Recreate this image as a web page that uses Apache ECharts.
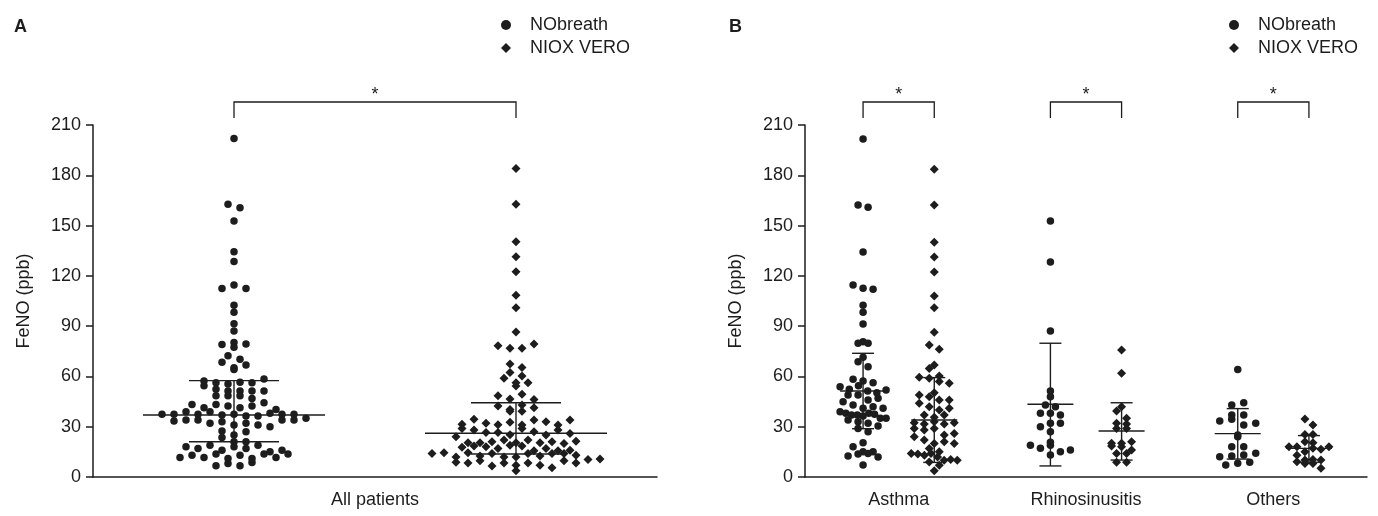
<!DOCTYPE html>
<html>
<head>
<meta charset="utf-8">
<script src="https://cdn.jsdelivr.net/npm/echarts@6/dist/echarts.min.js"></script>
<style>
  html, body { margin: 0; background: #fff; }
  #main { width: 1378px; height: 516px; }
</style>
</head>
<body>
<div id="main"></div>
<script>
// ---- data ----
const yTicks = [0, 30, 60, 90, 120, 150, 180, 210];
const catsA = ['All patients'];
const catsB = ['Asthma', 'Rhinosinusitis', 'Others'];
const devices = ['NObreath', 'NIOX VERO'];

// panel A, all patients (ppb)
const allNObreath = [202, 162.7, 160.7, 152.7, 134.4, 128.5, 112.4, 114.6, 112.4, 102.4, 98.3, 91.5, 87.1,
  79.1, 80.3, 77.4, 79.3, 72.4, 68.4, 70.2, 65.2, 66.8, 64.2,
  57.3, 56.3, 55.5, 56.5, 54.5, 56.3, 58.5,
  52.3, 51.3, 51.3, 51.3, 51.3, 48.5, 48.5, 48.5, 46.9,
  43.3, 41.3, 43.3, 42.3, 41.3, 42.3, 44.3, 40.3,
  37.4, 37.4, 38.9, 37.4, 38.9, 37, 37.4, 36.4, 36.4, 38, 37.4, 37.4,
  33.4, 34, 34, 32, 33, 31, 32, 31, 30, 35, 34, 34,
  27.4, 25, 27, 23.6, 21, 21,
  18, 17, 19, 16, 18, 17, 19, 15, 16,
  11.7, 13, 11.7, 13.7, 11, 13, 11, 13.7, 11.7, 13.7,
  6.7, 8.1, 6.7, 8.7];
const allNiox = [184, 162.7, 140.4, 131.4, 122.5, 108.4, 101, 86.5,
  78.3, 76.8, 76.8, 79.4, 67.4, 65.4,
  58.9, 62.4, 60.2, 56.3, 56.3, 54.3,
  48.5, 46.5, 49.3, 46.3,
  42.3, 39.3, 40.3, 39.3, 42.9, 41.3,
  31.5, 34.5, 32, 31.2, 32.6, 31, 34, 29, 33, 31, 34,
  28, 26.6, 24, 26.6, 25.2, 29, 27, 25, 28, 26,
  20.5, 20.5, 17.7, 21, 22, 20.5, 18.5, 22, 18, 17, 20.5, 19, 18.5, 21, 20, 21.4,
  14, 15.6, 14.4, 12, 17, 14.4, 12.5, 14, 12, 12, 15.6, 14, 12.5, 16, 14, 14, 13,
  8.8, 8.4, 9.7, 10.5, 6.6, 8.4, 7, 8.4, 3.7, 7, 5.5, 9.7, 10.7, 8.4];
// median, Q1, Q3
const allMid = [37, 26.1];
const allLow = [21, 13.7];
const allHigh = [57.5, 44.3];

// panel B, by diagnosis
const asthmaNObreath = [201.7, 162.3, 161, 134.2, 114.6, 112.6, 112, 102.4, 98.3, 91.3, 79.8, 79.8, 80.7, 71.4, 68.8, 65.8,
  58.3, 57.3, 56.3, 53.9, 52.3, 54.5, 51.3, 50.3, 48.9, 51.9, 48.9,
  45.9, 44.9, 47, 43, 41, 41.9, 41, 39, 38, 37, 37, 36.4, 38, 37.4, 34, 35, 35,
  33, 32, 30.4, 29, 27, 20.5, 18.1, 15.1, 15.1, 12.5, 13.7, 14, 12, 7.2];
const asthmaNiox = [183.6, 162.3, 140, 131.3, 122.3, 108, 101, 86.3, 78.8, 76.2, 66.8, 64.8,
  59.5, 60.3, 58.9, 57, 56, 48.9, 50.3, 47.9, 45.9, 44, 45.9,
  41.9, 40, 41, 37, 35.6, 37, 32.4, 31.6, 33, 31.6, 32.4,
  29, 28, 29, 25, 24, 26, 22, 20, 21, 20, 17,
  14, 13.7, 15, 13, 14, 12, 10, 9, 10.5, 10, 7, 3.7];
const rhinoNObreath = [152.7, 128.3, 87.1, 51.3, 47.9, 43, 41.9, 38, 38, 37, 30, 32, 32, 27,
  20.7, 19, 17.1, 19, 15, 16.1, 13.1];
const rhinoNiox = [75.8, 61.9, 39.4, 41.9, 32, 31.6, 35, 29, 29, 18.5, 20.1, 18.1, 20.1, 21,
  14, 14, 16.1, 8.8, 8.8];
const othersNObreath = [64.2, 43, 44.3, 33.4, 37, 37, 34.4, 31, 32, 25, 24, 18.1, 18.1,
  12.1, 12.5, 13.1, 14.1, 7.2, 8.2, 8.8];
const othersNiox = [34.6, 31, 25.4, 25.4, 21, 20.5, 18.1, 18.1, 15.1, 17.1, 16.5, 18.1, 13,
  10.1, 10.5, 9.1, 8.1, 8.1, 10.1, 5.2];
// centre line and error bar ends per diagnosis
const nobreathMidB = [51.3, 43.4, 25.9];
const nobreathLowB = [28.8, 6.6, 10.7];
const nobreathHighB = [73.8, 79.8, 40.8];
const nioxMidB = [34, 27.4, 17.1];
const nioxLowB = [8.7, 10.1, 8.8];
const nioxHighB = [59.3, 44.3, 24.7];

// ---- layout ----
const INK = '#1d1d1d';
const FONT = '"Liberation Sans", Arial, Helvetica, sans-serif';
const gridA = { left: 93, top: 125, width: 564, height: 352 };
const gridB = { left: 805, top: 125, width: 562, height: 352 };
const pxA = gridA.width / catsA.length;   // px per x unit
const pxB = gridB.width / catsB.length;
const offA = 0.25, offB = 0.19;           // group offset from category centre

// prism-like dot plot: values grouped in rows of `bin` ppb, spread symmetrically
function swarm(values, cx, pxPerUnit, step, maxHalf, bin) {
  const rows = {};
  values.forEach(v => {
    const k = Math.floor(v / bin);
    (rows[k] = rows[k] || []).push(v);
  });
  const out = [];
  Object.keys(rows).forEach(k => {
    const row = rows[k];
    const n = row.length;
    const s = n > 1 ? Math.min(step, 2 * maxHalf / (n - 1)) : 0;
    row.forEach((v, i) => out.push([cx + (i - (n - 1) / 2) * s / pxPerUnit, v]));
  });
  return out;
}

function dots(name, data, xi, symbol, size) {
  return {
    name, type: 'scatter', xAxisIndex: xi, yAxisIndex: xi === 0 ? 0 : 1,
    symbol, symbolSize: size, data, z: 3,
    itemStyle: { color: INK, opacity: 1 }
  };
}

function bars(xs, mid, low, high, xi, halfMid, halfCap) {
  return {
    type: 'custom', xAxisIndex: xi, yAxisIndex: xi === 0 ? 0 : 1, silent: true, z: 5,
    encode: { x: 0, y: [1, 2, 3] },
    data: xs.map((x, i) => [x, mid[i], low[i], high[i]]),
    renderItem(params, api) {
      const x = api.value(0);
      const c = api.coord([x, api.value(1)]);
      const lo = api.coord([x, api.value(2)]);
      const hi = api.coord([x, api.value(3)]);
      const style = { stroke: INK, lineWidth: 1.4 };
      const ln = (x1, y1, x2, y2) => ({ type: 'line', shape: { x1, y1, x2, y2 }, style });
      return { type: 'group', children: [
        ln(c[0] - halfMid, c[1], c[0] + halfMid, c[1]),
        ln(c[0], lo[1], c[0], hi[1]),
        ln(c[0] - halfCap, lo[1], c[0] + halfCap, lo[1]),
        ln(c[0] - halfCap, hi[1], c[0] + halfCap, hi[1])
      ]};
    }
  };
}

// significance brackets above the top tick
function brackets(pairs, xi) {
  return {
    type: 'custom', xAxisIndex: xi, yAxisIndex: xi === 0 ? 0 : 1, silent: true, clip: false,
    encode: { x: [0, 1] },
    data: pairs,
    renderItem(params, api) {
      const a = api.coord([api.value(0), 210]);
      const b = api.coord([api.value(1), 210]);
      const top = a[1] - 23, bot = a[1] - 7;
      const style = { stroke: INK, lineWidth: 1.3, fill: 'none' };
      return { type: 'group', children: [
        { type: 'polyline', shape: { points: [[a[0], bot], [a[0], top], [b[0], top], [b[0], bot]] }, style },
        { type: 'text', style: { text: '*', x: (a[0] + b[0]) / 2, y: top + 2, fill: INK,
          font: '18px ' + FONT, align: 'center', verticalAlign: 'bottom' } }
      ]};
    }
  };
}

const xsA = [0.5 - offA, 0.5 + offA];
const nobXB = catsB.map((c, i) => i + 0.5 - offB);
const nioXB = catsB.map((c, i) => i + 0.5 + offB);

const yAxisBase = gi => ({
  type: 'value', gridIndex: gi, min: yTicks[0], max: yTicks[yTicks.length - 1], interval: 30,
  name: 'FeNO (ppb)', nameLocation: 'middle', nameGap: 60, nameRotate: 90,
  nameTextStyle: { fontSize: 18, color: INK, fontFamily: FONT },
  axisLine: { show: true, lineStyle: { color: INK, width: 1.5 } },
  axisTick: { show: true, length: 7, lineStyle: { color: INK, width: 1.5 } },
  axisLabel: { fontSize: 18, color: INK, fontFamily: FONT, margin: 12 },
  splitLine: { show: false }
});
const catAxis = (gi, data) => ({
  type: 'category', gridIndex: gi, data, position: 'bottom', boundaryGap: true,
  axisLine: { lineStyle: { color: INK, width: 1.5 } },
  axisTick: { length: 8, lineStyle: { color: INK, width: 1.5 } },
  axisLabel: { fontSize: 18, color: INK, fontFamily: FONT, margin: 14 },
  splitLine: { show: false }
});
const valAxis = (gi, max) => ({ type: 'value', gridIndex: gi, min: 0, max, show: false, position: 'bottom' });

const legendBase = left => ({
  left, top: 11, orient: 'vertical', itemGap: 5, itemWidth: 10, itemHeight: 10,
  textStyle: { fontSize: 18, color: INK, fontFamily: FONT, padding: [0, 0, 0, 14] },
  selectedMode: false,
  data: [{ name: devices[0], icon: 'circle' }, { name: devices[1], icon: 'diamond' }]
});

const chart = echarts.init(document.getElementById('main'));
chart.setOption({
  animation: false,
  backgroundColor: '#fff',
  textStyle: { fontFamily: FONT },
  title: [
    { text: 'A', left: 9, top: 13, textStyle: { fontSize: 18, fontWeight: 'bold', color: INK, fontFamily: FONT } },
    { text: 'B', left: 724, top: 13, textStyle: { fontSize: 18, fontWeight: 'bold', color: INK, fontFamily: FONT } }
  ],
  legend: [legendBase(496), legendBase(1224)],
  grid: [gridA, gridB],
  xAxis: [valAxis(0, catsA.length), catAxis(0, catsA), valAxis(1, catsB.length), catAxis(1, catsB)],
  yAxis: [yAxisBase(0), yAxisBase(1)],
  series: [
    dots(devices[0], swarm(allNObreath, xsA[0], pxA, 12, 95, 5), 0, 'circle', 7.5),
    dots(devices[1], swarm(allNiox, xsA[1], pxA, 12, 95, 5), 0, 'diamond', 9),
    bars(xsA, allMid, allLow, allHigh, 0, 91, 45),
    brackets([[xsA[0], xsA[1]]], 0),
    dots(devices[0], [].concat(
      swarm(asthmaNObreath, nobXB[0], pxB, 10, 23, 5),
      swarm(rhinoNObreath, nobXB[1], pxB, 10, 23, 5),
      swarm(othersNObreath, nobXB[2], pxB, 12, 23, 5)), 2, 'circle', 7.5),
    dots(devices[1], [].concat(
      swarm(asthmaNiox, nioXB[0], pxB, 10, 23, 5),
      swarm(rhinoNiox, nioXB[1], pxB, 10, 23, 5),
      swarm(othersNiox, nioXB[2], pxB, 8, 23, 5)), 2, 'diamond', 9),
    bars(nobXB, nobreathMidB, nobreathLowB, nobreathHighB, 2, 23, 11),
    bars(nioXB, nioxMidB, nioxLowB, nioxHighB, 2, 23, 11),
    brackets(nobXB.map((x, i) => [x, nioXB[i]]), 2)
  ]
});
</script>
</body>
</html>
